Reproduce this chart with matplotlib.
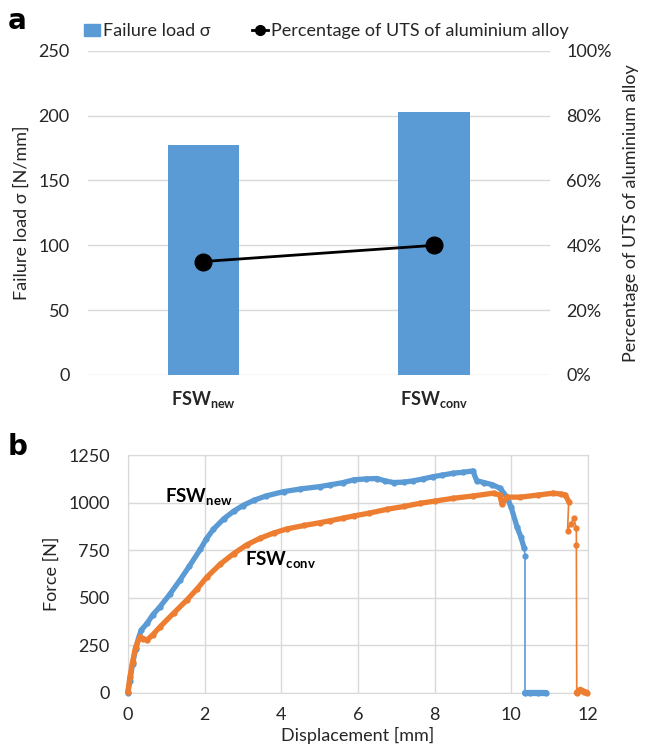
import matplotlib
matplotlib.use("Agg")
import matplotlib.pyplot as plt
from matplotlib.lines import Line2D
from matplotlib.patches import Patch

plt.rcParams['font.family'] = ['Lato', 'DejaVu Sans']
plt.rcParams['mathtext.fontset'] = 'custom'
plt.rcParams['mathtext.bf'] = 'Lato:bold'
plt.rcParams['mathtext.rm'] = 'Lato'

# panel a data
categories = [r'$\mathbf{FSW}_{\mathbf{new}}$', r'$\mathbf{FSW}_{\mathbf{conv}}$']
failure_load = [177, 203]
uts_percent = [35, 40]

# panel b data
new_disp = [0, 0.05, 0.12, 0.2, 0.28, 0.35, 0.5, 0.65, 0.84, 1.1,
            1.36, 1.6, 1.89, 2.05, 2.23, 2.5, 2.76, 3.0, 3.28, 3.6,
            4.06, 4.5, 5.02, 5.28, 5.6, 5.89, 6.2, 6.5, 6.7, 6.93,
            7.2, 7.45, 7.7, 7.97, 8.2, 8.49, 8.75, 9.0, 9.1, 9.3,
            9.5, 9.71, 9.89, 10.0, 10.15, 10.25, 10.34, 10.36, 10.36, 10.5,
            10.7, 10.91]
new_force = [0, 60, 150, 230, 290, 330, 365, 410, 453, 520,
             593, 665, 755, 810, 860, 915, 955, 985, 1012, 1035,
             1058, 1072, 1085, 1094, 1105, 1120, 1125, 1127, 1115, 1106,
             1108, 1115, 1125, 1137, 1145, 1155, 1160, 1167, 1116, 1105,
             1095, 1076, 1029, 975, 874, 820, 760, 721, 0, 0,
             0, 0]
conv_disp = [0, 0.05, 0.12, 0.2, 0.32, 0.4, 0.5, 0.65, 0.84, 1.2,
             1.54, 1.8, 2.06, 2.4, 2.76, 3.1, 3.45, 3.8, 4.15, 4.6,
             5.02, 5.28, 5.6, 5.89, 6.3, 6.76, 7.2, 7.63, 8.0, 8.49,
             9.0, 9.54, 9.7, 9.76, 9.89, 10.23, 10.7, 11.1, 11.3, 11.41,
             11.5, 11.47, 11.55, 11.63, 11.7, 11.7, 11.71, 11.8, 11.9, 11.97]
conv_force = [5, 80, 160, 240, 295, 285, 277, 305, 347, 420,
              488, 545, 608, 675, 732, 778, 813, 840, 862, 880,
              895, 905, 918, 930, 945, 965, 980, 997, 1008, 1023,
              1035, 1050, 1040, 993, 1029, 1029, 1040, 1050, 1045, 1041,
              1006, 853, 890, 918, 865, 778, 0, 15, 5, 0]

blue = '#5B9BD5'
orange = '#ED7D31'
grid = '#D9D9D9'
txt = '#262626'

fig = plt.figure(figsize=(6.46, 7.47), dpi=100)

# ---- panel a ----
ax = fig.add_axes([0.136, 0.498, 0.715, 0.434])
xpos = [0, 1]
ax.bar(xpos, failure_load, width=0.31, color=blue, zorder=2)
ax.set_xlim(-0.5, 1.5)
ax.set_ylim(0, 250)
ax.set_yticks([0, 50, 100, 150, 200, 250])
ax.set_xticks(xpos)
ax.set_xticklabels(categories, fontsize=15, color='black')
ax.tick_params(length=0, labelsize=13, colors=txt)
ax.tick_params(axis='y', pad=13)
ax.tick_params(axis='x', pad=10)
ax.grid(axis='y', color=grid, lw=1)
ax.set_axisbelow(True)
for s in ax.spines.values():
    s.set_visible(False)
ax.set_ylabel('Failure load σ [N/mm]', fontsize=13, color=txt, labelpad=6)

ax2 = ax.twinx()
ax2.plot(xpos, uts_percent, color='black', lw=2, marker='o', ms=12, zorder=3)
ax2.set_ylim(0, 100)
ax2.set_yticks([0, 20, 40, 60, 80, 100])
ax2.set_yticklabels(['0%', '20%', '40%', '60%', '80%', '100%'])
ax2.tick_params(length=0, labelsize=13, colors=txt, pad=12)
for s in ax2.spines.values():
    s.set_visible(False)
ax2.set_ylabel('Percentage of UTS of aluminium alloy', fontsize=13, color=txt, labelpad=8)

handles = [Patch(color=blue, label='Failure load σ'),
           Line2D([], [], color='black', lw=2, marker='o', ms=7,
                  label='Percentage of UTS of aluminium alloy')]
fig.legend(handles=handles, loc='center', bbox_to_anchor=(0.505, 0.958), ncol=2,
           frameon=False, fontsize=13, handlelength=0.9, handleheight=0.6,
           handletextpad=0.15, columnspacing=2.3, labelcolor=txt)

fig.text(0.012, 0.961, 'a', fontsize=20, fontweight='bold', family='DejaVu Sans')

# ---- panel b ----
bx = fig.add_axes([0.198, 0.0727, 0.712, 0.318])
bx.plot(new_disp, new_force, color=blue, lw=1.2, marker='o', ms=3.5, zorder=3, clip_on=False)
bx.plot(new_disp[:47], new_force[:47], color=blue, lw=3.8, solid_capstyle='round', zorder=3, clip_on=False)
bx.plot(new_disp[48:], new_force[48:], color=blue, lw=4.5, solid_capstyle='round', zorder=3, clip_on=False)
bx.plot(conv_disp, conv_force, color=orange, lw=1.2, marker='o', ms=3.5, zorder=4, clip_on=False)
bx.plot(conv_disp[:41], conv_force[:41], color=orange, lw=3.8, solid_capstyle='round', zorder=4, clip_on=False)
bx.plot(conv_disp[46:], conv_force[46:], color=orange, lw=4.5, solid_capstyle='round', zorder=4, clip_on=False)
bx.set_xlim(0, 12)
bx.set_ylim(0, 1250)
bx.set_xticks(range(0, 13, 2))
bx.set_yticks(range(0, 1251, 250))
bx.tick_params(length=0, labelsize=13, colors=txt)
bx.tick_params(axis='y', pad=13)
bx.tick_params(axis='x', pad=10)
bx.grid(color=grid, lw=1)
bx.set_axisbelow(True)
for s in bx.spines.values():
    s.set_color(grid)
bx.set_xlabel('Displacement [mm]', fontsize=13, color=txt, labelpad=3)
bx.set_ylabel('Force [N]', fontsize=13, color=txt, labelpad=6)

bx.text(0.96, 1030, r'$\mathbf{FSW}_{\mathbf{new}}$', fontsize=13.5, va='center', color='black')
bx.text(3.05, 698, r'$\mathbf{FSW}_{\mathbf{conv}}$', fontsize=13.5, va='center', color='black')

fig.text(0.012, 0.391, 'b', fontsize=20, fontweight='bold', family='DejaVu Sans')

fig.savefig('out.png', dpi=100)
